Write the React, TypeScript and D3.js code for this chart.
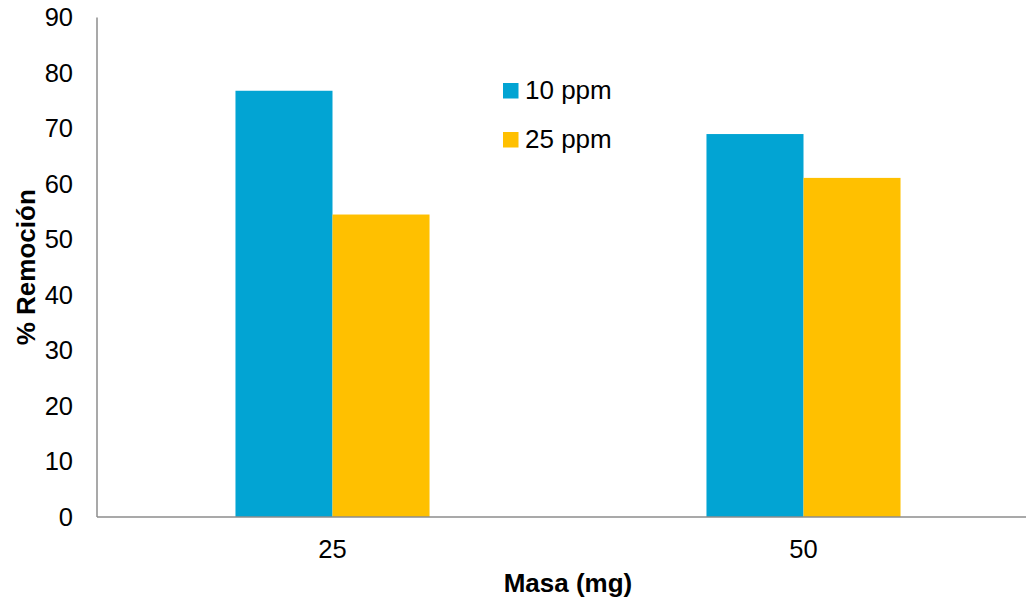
import { useEffect, useRef } from "react";
import * as d3 from "d3";

const CATEGORIES = ["25", "50"];
const SERIES = ["10 ppm", "25 ppm"];
const VALUES_10PPM = [76.8, 69.0];
const VALUES_25PPM = [54.5, 61.1];
const Y_TICKS = [0, 10, 20, 30, 40, 50, 60, 70, 80, 90];

const COLORS = ["#02A4D3", "#FFC000"];
const FONT = "'Liberation Sans', Arial, sans-serif";
const WIDTH = 1026;
const HEIGHT = 598;
const MARGIN = { top: 17.5, right: -13, bottom: 81, left: 97 };

export default function App() {
  const svgRef = useRef<SVGSVGElement>(null);

  useEffect(() => {
    const svg = svgRef.current;
    if (!svg) return;
    const root = d3.select(svg);
    root.selectAll("*").remove();

    const w = WIDTH - MARGIN.left - MARGIN.right;
    const h = HEIGHT - MARGIN.top - MARGIN.bottom;
    const g = root
      .append("g")
      .attr("transform", `translate(${MARGIN.left},${MARGIN.top})`);

    const x0 = d3.scaleBand().domain(CATEGORIES).range([0, w]).padding(0);
    const gap = x0.bandwidth() * 0.294;
    const x1 = d3
      .scaleBand()
      .domain(SERIES)
      .range([gap, x0.bandwidth() - gap])
      .padding(0);
    const y = d3.scaleLinear().domain([0, 90]).range([h, 0]);

    const seriesValues = [VALUES_10PPM, VALUES_25PPM];

    // Bars
    CATEGORIES.forEach((cat, ci) => {
      SERIES.forEach((s, si) => {
        const v = seriesValues[si][ci];
        g.append("rect")
          .attr("x", x0(cat)! + x1(s)!)
          .attr("y", y(v))
          .attr("width", x1.bandwidth())
          .attr("height", h - y(v))
          .attr("fill", COLORS[si]);
      });
    });

    // Axis lines
    g.append("line")
      .attr("x1", 0)
      .attr("x2", 0)
      .attr("y1", 0)
      .attr("y2", h)
      .attr("stroke", "#8c8c8c")
      .attr("stroke-width", 1.5);
    g.append("line")
      .attr("x1", 0)
      .attr("x2", w)
      .attr("y1", h)
      .attr("y2", h)
      .attr("stroke", "#8c8c8c")
      .attr("stroke-width", 1.5);

    // Y tick labels
    for (const t of Y_TICKS) {
      g.append("text")
        .attr("x", -24)
        .attr("y", y(t))
        .attr("dy", "0.35em")
        .attr("text-anchor", "end")
        .attr("fill", "#000")
        .attr("font-family", FONT)
        .attr("font-size", 25.5)
        .text(t.toString());
    }

    // X tick labels
    for (const c of CATEGORIES) {
      g.append("text")
        .attr("x", x0(c)! + x0.bandwidth() / 2)
        .attr("y", h + 41)
        .attr("text-anchor", "middle")
        .attr("fill", "#000")
        .attr("font-family", FONT)
        .attr("font-size", 25.5)
        .text(c);
    }

    // Axis titles
    g.append("text")
      .attr("x", w / 2)
      .attr("y", h + 75)
      .attr("text-anchor", "middle")
      .attr("fill", "#000")
      .attr("font-family", FONT)
      .attr("font-size", 26)
      .attr("font-weight", "bold")
      .text("Masa (mg)");

    g.append("text")
      .attr("transform", "rotate(-90)")
      .attr("x", -h / 2)
      .attr("y", -62)
      .attr("text-anchor", "middle")
      .attr("fill", "#000")
      .attr("font-family", FONT)
      .attr("font-size", 26)
      .attr("font-weight", "bold")
      .text("% Remoción");

    // Legend
    SERIES.forEach((s, si) => {
      const ly = 83 + si * 49;
      root
        .append("rect")
        .attr("x", 503)
        .attr("y", ly)
        .attr("width", 15.5)
        .attr("height", 15.5)
        .attr("fill", COLORS[si]);
      root
        .append("text")
        .attr("x", 525)
        .attr("y", ly + 15.5)
        .attr("fill", "#000")
        .attr("font-family", FONT)
        .attr("font-size", 26)
        .text(s);
    });
  }, []);

  return (
    <svg
      ref={svgRef}
      width={WIDTH}
      height={HEIGHT}
      style={{ position: "absolute", left: 0, top: 0, background: "#fff" }}
    />
  );
}
